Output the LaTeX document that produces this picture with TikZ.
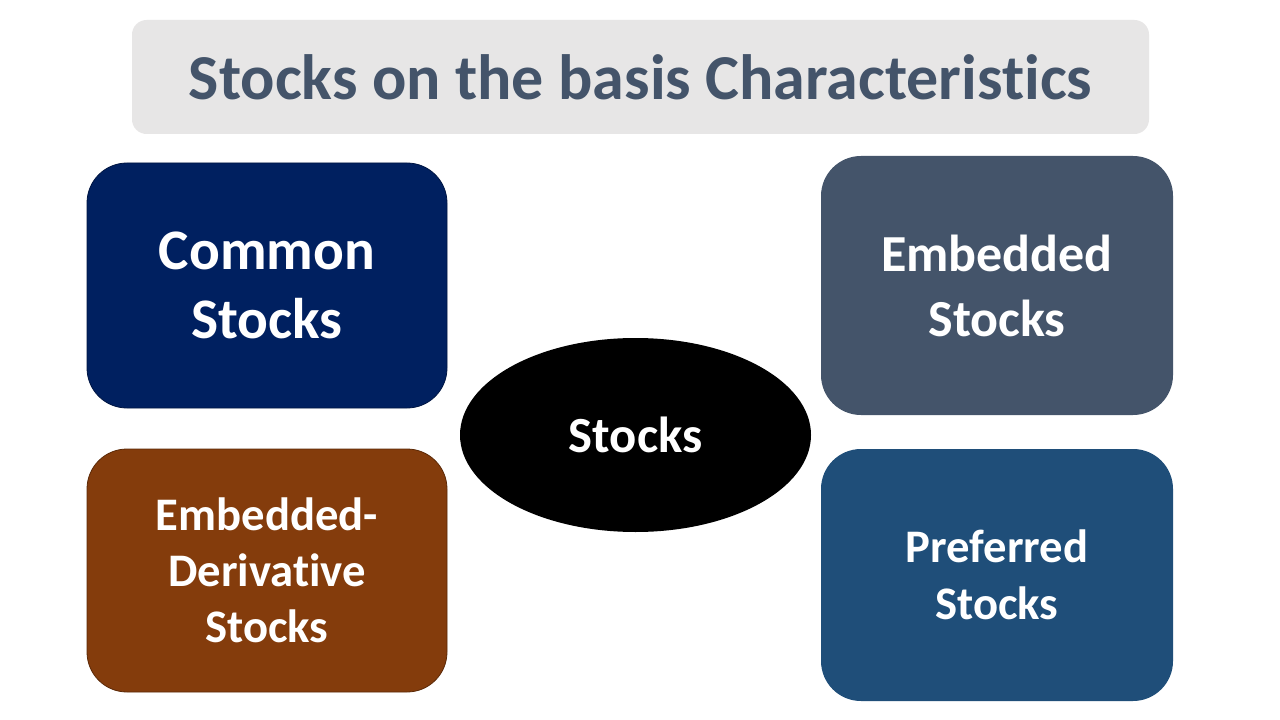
\documentclass[tikz,border=0pt]{standalone}
\usepackage{fontspec}
\setmainfont[Ligatures=NoCommon]{Carlito}
\usetikzlibrary{shapes.geometric}
\definecolor{navy}{HTML}{002060}
\definecolor{slate}{HTML}{44546A}
\definecolor{rust}{HTML}{843C0C}
\definecolor{steel}{HTML}{1F4E79}
\definecolor{lightgray}{HTML}{E7E6E6}
\tikzset{
  card/.style={rectangle, rounded corners=30pt, text=white, align=center, font=\bfseries, inner sep=0pt},
}
\begin{document}
\begin{tikzpicture}[x=0.75pt,y=-0.75pt]
\useasboundingbox (0,0) rectangle (1280,720);
\fill[white] (0,0) rectangle (1280,720);
\node[rectangle, rounded corners=11pt, fill=lightgray, minimum width=762.75pt, minimum height=85.5pt,
  text=slate, font=\fontsize{48}{58}\selectfont\bfseries] (title) at (640.5,77) {Stocks on the basis Characteristics};
\node[card, fill=navy, draw=navy!70!black, line width=0.6pt, minimum width=270pt, minimum height=183.75pt,
  font=\fontsize{43}{51.75}\selectfont\bfseries] (common) at (267,285.5) {Common\\Stocks};
\node[card, fill=slate, minimum width=264pt, minimum height=194.25pt,
  font=\fontsize{39}{48.75}\selectfont\bfseries] (embedded) at (997,285.5) {Embedded\\Stocks};
\node[card, fill=rust, draw=rust!70!black, line width=0.6pt, minimum width=270pt, minimum height=182.25pt,
  font=\fontsize{35}{42}\selectfont\bfseries] (embderiv) at (267,570.5) {Embedded-\\Derivative\\Stocks};
\node[card, fill=steel, minimum width=264pt, minimum height=189pt,
  font=\fontsize{35}{42.75}\selectfont\bfseries] (preferred) at (997,575) {Preferred\\Stocks};
\node[ellipse, fill=black, text=white, minimum width=263.25pt, minimum height=145.5pt, inner sep=0pt,
  font=\fontsize{38}{45}\selectfont\bfseries] (stocks) at (635.5,435) {Stocks};
\end{tikzpicture}
\end{document}
